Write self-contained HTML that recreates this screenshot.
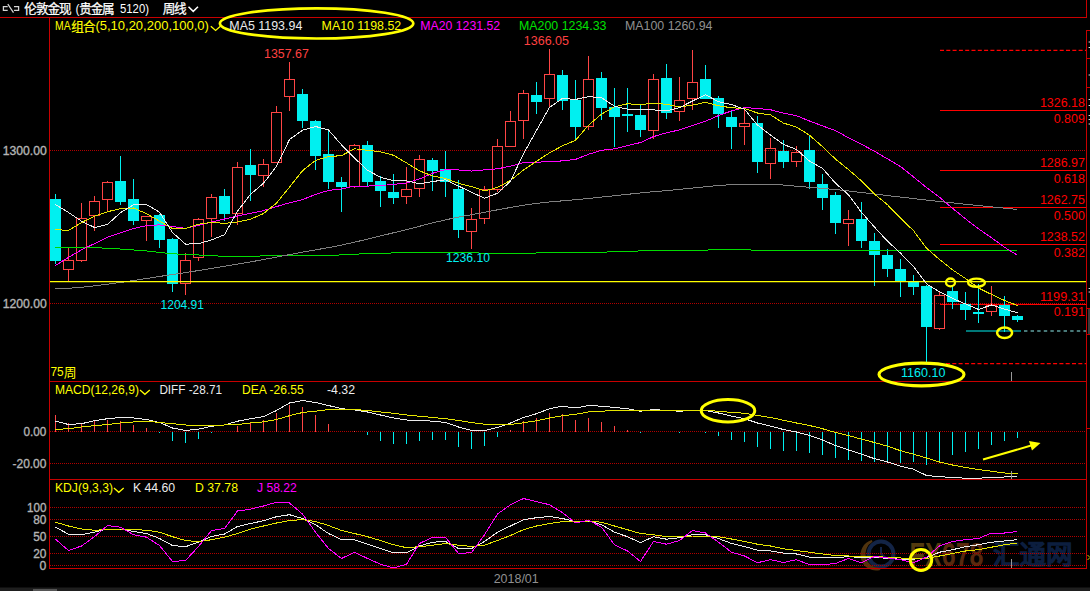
<!DOCTYPE html>
<html><head><meta charset="utf-8"><title>chart</title>
<style>html,body{margin:0;padding:0;background:#000;overflow:hidden}svg{display:block}text{font-family:"Liberation Sans",sans-serif}</style>
</head><body>
<svg width="1090" height="591" viewBox="0 0 1090 591">
<rect x="0" y="0" width="1090" height="591" fill="#000"/>
<g opacity="0.9">
<circle cx="881" cy="554" r="12.5" fill="none" stroke="#16284e" stroke-width="4"/>
<path d="M872 541 A15 15 0 0 0 880 569 A13 13 0 0 1 872 541 Z" fill="#5a3a10" stroke="#5a3a10" stroke-width="2"/>
<path d="M881 547 l0 7 l5 4" fill="none" stroke="#16284e" stroke-width="2"/>
<text x="909.6" y="566"  font-size="34" font-weight="bold" textLength="74" lengthAdjust="spacingAndGlyphs"><tspan fill="#5e4210">FX</tspan><tspan fill="#622e10">678</tspan></text>
<text x="993 1019.5 1046" y="564" font-size="26.5" fill="#0e2246" stroke="#0e2246" stroke-width="1.6" style="font-family:'Liberation Sans','Noto Sans CJK SC',sans-serif">汇通网</text>
</g>
<line x1="50" y1="150.5" x2="1086" y2="150.5" stroke="#b00000" stroke-width="1" stroke-dasharray="1 1" shape-rendering="crispEdges"/>
<line x1="50" y1="303.5" x2="1086" y2="303.5" stroke="#b00000" stroke-width="1" stroke-dasharray="1 1" shape-rendering="crispEdges"/>
<line x1="50" y1="431.5" x2="1086" y2="431.5" stroke="#b00000" stroke-width="1" stroke-dasharray="1 1" shape-rendering="crispEdges"/>
<line x1="50" y1="463.5" x2="1086" y2="463.5" stroke="#b00000" stroke-width="1" stroke-dasharray="1 1" shape-rendering="crispEdges"/>
<line x1="50" y1="507.5" x2="1086" y2="507.5" stroke="#b00000" stroke-width="1" stroke-dasharray="1 1" shape-rendering="crispEdges"/>
<line x1="50" y1="519.5" x2="1086" y2="519.5" stroke="#b00000" stroke-width="1" stroke-dasharray="1 1" shape-rendering="crispEdges"/>
<line x1="50" y1="536.5" x2="1086" y2="536.5" stroke="#b00000" stroke-width="1" stroke-dasharray="1 1" shape-rendering="crispEdges"/>
<line x1="50" y1="553.5" x2="1086" y2="553.5" stroke="#b00000" stroke-width="1" stroke-dasharray="1 1" shape-rendering="crispEdges"/>
<line x1="50" y1="565.5" x2="1086" y2="565.5" stroke="#b00000" stroke-width="1" stroke-dasharray="1 1" shape-rendering="crispEdges"/>
<line x1="940" y1="110.5" x2="1086" y2="110.5" stroke="#ff0000" stroke-width="1" shape-rendering="crispEdges"/>
<line x1="940" y1="170.5" x2="1086" y2="170.5" stroke="#ff0000" stroke-width="1" shape-rendering="crispEdges"/>
<line x1="940" y1="207.5" x2="1086" y2="207.5" stroke="#ff0000" stroke-width="1" shape-rendering="crispEdges"/>
<line x1="940" y1="244.5" x2="1086" y2="244.5" stroke="#ff0000" stroke-width="1" shape-rendering="crispEdges"/>
<line x1="940" y1="304.5" x2="1086" y2="304.5" stroke="#ff0000" stroke-width="1" shape-rendering="crispEdges"/>
<line x1="940" y1="50.4" x2="1086" y2="50.4" stroke="#ff0000" stroke-width="1.1" stroke-dasharray="4 2.3"/>
<line x1="946" y1="363.6" x2="1086" y2="363.6" stroke="#ff0000" stroke-width="1.1" stroke-dasharray="4 2.3"/>
<line x1="966" y1="331" x2="1021" y2="331" stroke="#00f0f0" stroke-width="1.1"/>
<line x1="1024" y1="331" x2="1086" y2="331" stroke="#90f0f0" stroke-width="1.1" stroke-dasharray="3.4 3.2"/>
<g shape-rendering="crispEdges">
<rect x="55" y="193.75" width="1" height="70.25" fill="#00f0f0"/>
<rect x="50" y="199.25" width="11" height="61.5" fill="#00f0f0"/>
<rect x="68" y="247.5" width="1" height="12" fill="#ff4545"/>
<rect x="68" y="270" width="1" height="11" fill="#ff4545"/>
<rect x="63.5" y="260.5" width="10" height="9" fill="none" stroke="#ff4545" stroke-width="1"/>
<rect x="81" y="203" width="1" height="15.3" fill="#ff4545"/>
<rect x="81" y="260.75" width="1" height="1.25" fill="#ff4545"/>
<rect x="76.5" y="218.5" width="10" height="42" fill="none" stroke="#ff4545" stroke-width="1"/>
<rect x="94" y="196.25" width="1" height="5" fill="#ff4545"/>
<rect x="94" y="215.75" width="1" height="14.75" fill="#ff4545"/>
<rect x="89.5" y="201.5" width="10" height="14" fill="none" stroke="#ff4545" stroke-width="1"/>
<rect x="107" y="181" width="1" height="1.5" fill="#ff4545"/>
<rect x="107" y="199.5" width="1" height="11.5" fill="#ff4545"/>
<rect x="102.5" y="182.5" width="10" height="17" fill="none" stroke="#ff4545" stroke-width="1"/>
<rect x="120" y="156.25" width="1" height="48.25" fill="#00f0f0"/>
<rect x="115" y="181.25" width="11" height="20.5" fill="#00f0f0"/>
<rect x="133" y="179.25" width="1" height="45.75" fill="#00f0f0"/>
<rect x="128" y="199.25" width="11" height="21.5" fill="#00f0f0"/>
<rect x="146" y="216" width="1" height="0.25" fill="#ff4545"/>
<rect x="146" y="220.75" width="1" height="20" fill="#ff4545"/>
<rect x="141.5" y="216.5" width="10" height="4" fill="none" stroke="#ff4545" stroke-width="1"/>
<rect x="159" y="214" width="1" height="34" fill="#00f0f0"/>
<rect x="154" y="215" width="11" height="25" fill="#00f0f0"/>
<rect x="172" y="237.5" width="1" height="54.2" fill="#00f0f0"/>
<rect x="167" y="239.25" width="11" height="44.75" fill="#00f0f0"/>
<rect x="185" y="252.5" width="1" height="7" fill="#ff4545"/>
<rect x="185" y="283.75" width="1" height="11.65" fill="#ff4545"/>
<rect x="180.5" y="260.5" width="10" height="23" fill="none" stroke="#ff4545" stroke-width="1"/>
<rect x="198" y="217.5" width="1" height="1.5" fill="#ff4545"/>
<rect x="198" y="258" width="1" height="2.5" fill="#ff4545"/>
<rect x="193.5" y="219.5" width="10" height="38" fill="none" stroke="#ff4545" stroke-width="1"/>
<rect x="211" y="194.25" width="1" height="2.75" fill="#ff4545"/>
<rect x="211" y="219" width="1" height="18" fill="#ff4545"/>
<rect x="206.5" y="197.5" width="10" height="21" fill="none" stroke="#ff4545" stroke-width="1"/>
<rect x="224" y="189.25" width="1" height="31.25" fill="#00f0f0"/>
<rect x="219" y="196.25" width="11" height="17.5" fill="#00f0f0"/>
<rect x="237" y="162" width="1" height="5" fill="#ff4545"/>
<rect x="237" y="213.75" width="1" height="10.75" fill="#ff4545"/>
<rect x="232.5" y="167.5" width="10" height="46" fill="none" stroke="#ff4545" stroke-width="1"/>
<rect x="250" y="149.25" width="1" height="51.5" fill="#00f0f0"/>
<rect x="245" y="165" width="11" height="9.5" fill="#00f0f0"/>
<rect x="263" y="159.25" width="1" height="5" fill="#ff4545"/>
<rect x="263" y="175.5" width="1" height="11" fill="#ff4545"/>
<rect x="258.5" y="164.5" width="10" height="11" fill="none" stroke="#ff4545" stroke-width="1"/>
<rect x="276" y="106.2" width="1" height="6.2" fill="#ff4545"/>
<rect x="276" y="163" width="1" height="0" fill="#ff4545"/>
<rect x="271.5" y="112.5" width="10" height="50" fill="none" stroke="#ff4545" stroke-width="1"/>
<rect x="289" y="62" width="1" height="17.4" fill="#ff4545"/>
<rect x="289" y="97.4" width="1" height="13.2" fill="#ff4545"/>
<rect x="284.5" y="79.5" width="10" height="17" fill="none" stroke="#ff4545" stroke-width="1"/>
<rect x="302" y="89.2" width="1" height="38.9" fill="#00f0f0"/>
<rect x="297" y="94.2" width="11" height="26.4" fill="#00f0f0"/>
<rect x="315" y="119.9" width="1" height="50" fill="#00f0f0"/>
<rect x="310" y="121.1" width="11" height="34.5" fill="#00f0f0"/>
<rect x="328" y="128.6" width="1" height="60" fill="#00f0f0"/>
<rect x="323" y="154.3" width="11" height="27.5" fill="#00f0f0"/>
<rect x="341" y="176.9" width="1" height="35.1" fill="#00f0f0"/>
<rect x="336" y="182.1" width="11" height="4.8" fill="#00f0f0"/>
<rect x="354" y="144.1" width="1" height="1.3" fill="#ff4545"/>
<rect x="354" y="187.1" width="1" height="1.2" fill="#ff4545"/>
<rect x="349.5" y="145.5" width="10" height="41" fill="none" stroke="#ff4545" stroke-width="1"/>
<rect x="367" y="141.1" width="1" height="45" fill="#00f0f0"/>
<rect x="362" y="145.1" width="11" height="36.5" fill="#00f0f0"/>
<rect x="380" y="175.6" width="1" height="31.8" fill="#00f0f0"/>
<rect x="375" y="181.1" width="11" height="9.7" fill="#00f0f0"/>
<rect x="393" y="174.1" width="1" height="30.3" fill="#00f0f0"/>
<rect x="388" y="192.4" width="11" height="5.6" fill="#00f0f0"/>
<rect x="406" y="167.1" width="1" height="21.5" fill="#ff4545"/>
<rect x="406" y="196.6" width="1" height="7" fill="#ff4545"/>
<rect x="401.5" y="189.5" width="10" height="7" fill="none" stroke="#ff4545" stroke-width="1"/>
<rect x="419" y="155.1" width="1" height="4.3" fill="#ff4545"/>
<rect x="419" y="189.2" width="1" height="7.8" fill="#ff4545"/>
<rect x="414.5" y="159.5" width="10" height="29" fill="none" stroke="#ff4545" stroke-width="1"/>
<rect x="432" y="157.9" width="1" height="33.2" fill="#00f0f0"/>
<rect x="427" y="159.9" width="11" height="11.2" fill="#00f0f0"/>
<rect x="445" y="150.9" width="1" height="45.7" fill="#00f0f0"/>
<rect x="440" y="168.6" width="11" height="13" fill="#00f0f0"/>
<rect x="458" y="179.9" width="1" height="57.9" fill="#00f0f0"/>
<rect x="453" y="189.1" width="11" height="40.7" fill="#00f0f0"/>
<rect x="471" y="208.1" width="1" height="11.2" fill="#ff4545"/>
<rect x="471" y="231.6" width="1" height="16.9" fill="#ff4545"/>
<rect x="466.5" y="219.5" width="10" height="12" fill="none" stroke="#ff4545" stroke-width="1"/>
<rect x="484" y="186.2" width="1" height="3.2" fill="#ff4545"/>
<rect x="484" y="219.3" width="1" height="4.3" fill="#ff4545"/>
<rect x="479.5" y="189.5" width="10" height="29" fill="none" stroke="#ff4545" stroke-width="1"/>
<rect x="497" y="139.1" width="1" height="7" fill="#ff4545"/>
<rect x="497" y="189.9" width="1" height="2" fill="#ff4545"/>
<rect x="492.5" y="146.5" width="10" height="43" fill="none" stroke="#ff4545" stroke-width="1"/>
<rect x="510" y="111.1" width="1" height="10" fill="#ff4545"/>
<rect x="510" y="146.6" width="1" height="0.7" fill="#ff4545"/>
<rect x="505.5" y="121.5" width="10" height="25" fill="none" stroke="#ff4545" stroke-width="1"/>
<rect x="523" y="89.9" width="1" height="3.3" fill="#ff4545"/>
<rect x="523" y="121.1" width="1" height="17.5" fill="#ff4545"/>
<rect x="518.5" y="93.5" width="10" height="27" fill="none" stroke="#ff4545" stroke-width="1"/>
<rect x="536" y="81.9" width="1" height="32.5" fill="#00f0f0"/>
<rect x="531" y="95.4" width="11" height="7" fill="#00f0f0"/>
<rect x="549" y="49.2" width="1" height="25.2" fill="#ff4545"/>
<rect x="549" y="99.1" width="1" height="8.3" fill="#ff4545"/>
<rect x="544.5" y="74.5" width="10" height="24" fill="none" stroke="#ff4545" stroke-width="1"/>
<rect x="562" y="70" width="1" height="39.9" fill="#00f0f0"/>
<rect x="557" y="75.4" width="11" height="25.2" fill="#00f0f0"/>
<rect x="575" y="79.9" width="1" height="59.9" fill="#00f0f0"/>
<rect x="570" y="99.9" width="11" height="26.7" fill="#00f0f0"/>
<rect x="588" y="56.2" width="1" height="23" fill="#ff4545"/>
<rect x="588" y="126.6" width="1" height="3.2" fill="#ff4545"/>
<rect x="583.5" y="79.5" width="10" height="47" fill="none" stroke="#ff4545" stroke-width="1"/>
<rect x="601" y="71.9" width="1" height="48" fill="#00f0f0"/>
<rect x="596" y="78.2" width="11" height="29.8" fill="#00f0f0"/>
<rect x="614" y="88.2" width="1" height="58.6" fill="#00f0f0"/>
<rect x="609" y="106.9" width="11" height="9.7" fill="#00f0f0"/>
<rect x="627" y="88.2" width="1" height="43.6" fill="#00f0f0"/>
<rect x="622" y="114.1" width="11" height="1.5" fill="#00f0f0"/>
<rect x="640" y="104.4" width="1" height="32.4" fill="#00f0f0"/>
<rect x="635" y="115.4" width="11" height="14.4" fill="#00f0f0"/>
<rect x="653" y="74.2" width="1" height="5.2" fill="#ff4545"/>
<rect x="653" y="131.1" width="1" height="8.2" fill="#ff4545"/>
<rect x="648.5" y="79.5" width="10" height="51" fill="none" stroke="#ff4545" stroke-width="1"/>
<rect x="666" y="64.2" width="1" height="54.4" fill="#00f0f0"/>
<rect x="661" y="78.2" width="11" height="34.8" fill="#00f0f0"/>
<rect x="679" y="76.9" width="1" height="23.5" fill="#ff4545"/>
<rect x="679" y="112" width="1" height="8.6" fill="#ff4545"/>
<rect x="674.5" y="100.5" width="10" height="11" fill="none" stroke="#ff4545" stroke-width="1"/>
<rect x="692" y="50" width="1" height="32.4" fill="#ff4545"/>
<rect x="692" y="98.6" width="1" height="11.3" fill="#ff4545"/>
<rect x="687.5" y="82.5" width="10" height="16" fill="none" stroke="#ff4545" stroke-width="1"/>
<rect x="705" y="65" width="1" height="34.4" fill="#00f0f0"/>
<rect x="700" y="79.2" width="11" height="19.4" fill="#00f0f0"/>
<rect x="718" y="96.1" width="1" height="31.7" fill="#00f0f0"/>
<rect x="713" y="98.1" width="11" height="16.3" fill="#00f0f0"/>
<rect x="731" y="111.1" width="1" height="37.9" fill="#00f0f0"/>
<rect x="726" y="116.6" width="11" height="10.7" fill="#00f0f0"/>
<rect x="744" y="108" width="1" height="15.4" fill="#ff4545"/>
<rect x="744" y="127.1" width="1" height="17.8" fill="#ff4545"/>
<rect x="739.5" y="123.5" width="10" height="3" fill="none" stroke="#ff4545" stroke-width="1"/>
<rect x="757" y="116.1" width="1" height="57.2" fill="#00f0f0"/>
<rect x="752" y="123.4" width="11" height="38.2" fill="#00f0f0"/>
<rect x="770" y="138.2" width="1" height="10.1" fill="#ff4545"/>
<rect x="770" y="164.1" width="1" height="14.5" fill="#ff4545"/>
<rect x="765.5" y="148.5" width="10" height="15" fill="none" stroke="#ff4545" stroke-width="1"/>
<rect x="783" y="139.9" width="1" height="28" fill="#00f0f0"/>
<rect x="778" y="151.2" width="11" height="10.4" fill="#00f0f0"/>
<rect x="796" y="146.2" width="1" height="6.2" fill="#ff4545"/>
<rect x="796" y="162.4" width="1" height="4.5" fill="#ff4545"/>
<rect x="791.5" y="152.5" width="10" height="9" fill="none" stroke="#ff4545" stroke-width="1"/>
<rect x="809" y="135.7" width="1" height="52.9" fill="#00f0f0"/>
<rect x="804" y="150.4" width="11" height="31.2" fill="#00f0f0"/>
<rect x="822" y="174.1" width="1" height="35.8" fill="#00f0f0"/>
<rect x="817" y="184.1" width="11" height="13.6" fill="#00f0f0"/>
<rect x="835" y="192.1" width="1" height="41.5" fill="#00f0f0"/>
<rect x="830" y="194.9" width="11" height="27.7" fill="#00f0f0"/>
<rect x="848" y="209.9" width="1" height="9.4" fill="#ff4545"/>
<rect x="848" y="224.3" width="1" height="21.5" fill="#ff4545"/>
<rect x="843.5" y="219.5" width="10" height="4" fill="none" stroke="#ff4545" stroke-width="1"/>
<rect x="861" y="201.9" width="1" height="46" fill="#00f0f0"/>
<rect x="856" y="219.1" width="11" height="21.5" fill="#00f0f0"/>
<rect x="874" y="233.1" width="1" height="53" fill="#00f0f0"/>
<rect x="869" y="241.1" width="11" height="13.9" fill="#00f0f0"/>
<rect x="887" y="249.1" width="1" height="27.7" fill="#00f0f0"/>
<rect x="882" y="255.4" width="11" height="13.2" fill="#00f0f0"/>
<rect x="900" y="259.4" width="1" height="37.4" fill="#00f0f0"/>
<rect x="895" y="269.1" width="11" height="13.2" fill="#00f0f0"/>
<rect x="913" y="274.9" width="1" height="19.9" fill="#00f0f0"/>
<rect x="908" y="281.6" width="11" height="5" fill="#00f0f0"/>
<rect x="926" y="285" width="1" height="77" fill="#00f0f0"/>
<rect x="921" y="286.1" width="11" height="40.8" fill="#00f0f0"/>
<rect x="939" y="291.8" width="1" height="3" fill="#ff4545"/>
<rect x="939" y="328.6" width="1" height="1.3" fill="#ff4545"/>
<rect x="934.5" y="295.5" width="10" height="33" fill="none" stroke="#ff4545" stroke-width="1"/>
<rect x="952" y="286.1" width="1" height="22.4" fill="#00f0f0"/>
<rect x="947" y="291.1" width="11" height="10.5" fill="#00f0f0"/>
<rect x="965" y="291.8" width="1" height="28" fill="#00f0f0"/>
<rect x="960" y="303.6" width="11" height="6.2" fill="#00f0f0"/>
<rect x="978" y="283.6" width="1" height="39.4" fill="#00f0f0"/>
<rect x="973" y="312" width="11" height="2" fill="#00f0f0"/>
<rect x="991" y="286.1" width="1" height="18.7" fill="#ff4545"/>
<rect x="991" y="311.5" width="1" height="4" fill="#ff4545"/>
<rect x="986.5" y="305.5" width="10" height="6" fill="none" stroke="#ff4545" stroke-width="1"/>
<rect x="1004" y="296.1" width="1" height="36.2" fill="#00f0f0"/>
<rect x="999" y="304.8" width="11" height="10.7" fill="#00f0f0"/>
<rect x="1017" y="315" width="1" height="6.5" fill="#00f0f0"/>
<rect x="1012" y="315.5" width="11" height="4.3" fill="#00f0f0"/>
</g>
<polyline points="55.5,247.4 68.5,247.5 81.5,247.58 94.5,247.76 107.5,248.21 120.5,249.05 133.5,249.95 146.5,250.98 159.5,252.37 172.5,253.78 185.5,254.48 198.5,254.99 211.5,255.74 224.5,256.3 237.5,256.33 250.5,256.14 263.5,255.96 276.5,255.82 289.5,255.67 302.5,255.52 315.5,255.36 328.5,255.22 341.5,254.94 354.5,254.22 367.5,253.62 380.5,253.25 393.5,252.94 406.5,252.71 419.5,252.56 432.5,252.47 445.5,252.45 458.5,252.49 471.5,252.63 484.5,253.28 497.5,253.62 510.5,253.64 523.5,253.42 536.5,253 549.5,252.74 562.5,252.62 575.5,252.54 588.5,252.42 601.5,252.17 614.5,251.78 627.5,251.32 640.5,250.93 653.5,250.67 666.5,250.53 679.5,250.44 692.5,250.33 705.5,250.11 718.5,249.62 731.5,249.79 744.5,249.96 757.5,250.05 770.5,250.13 783.5,250.19 796.5,250.25 809.5,250.31 822.5,250.36 835.5,250.41 848.5,250.48 861.5,250.56 874.5,250.64 887.5,250.69 900.5,250.7 913.5,250.67 926.5,250.6 939.5,250.52 952.5,250.43 965.5,250.35 978.5,250.29 991.5,250.25 1004.5,250.23 1017.5,250.2" fill="none" stroke="#00dc00" stroke-width="1" stroke-linejoin="round" shape-rendering="crispEdges"/>
<polyline points="55.5,288.2 68.5,288.28 81.5,287.34 94.5,285.89 107.5,284.23 120.5,282.45 133.5,280.54 146.5,278.51 159.5,276.46 172.5,274.51 185.5,272.62 198.5,270.54 211.5,268.45 224.5,266.32 237.5,264.15 250.5,261.91 263.5,259.56 276.5,257.1 289.5,254.62 302.5,252.16 315.5,249.86 328.5,247.64 341.5,245.08 354.5,242.17 367.5,239.11 380.5,235.96 393.5,232.78 406.5,229.59 419.5,226.27 432.5,222.95 445.5,219.84 458.5,217.11 471.5,214.7 484.5,212.3 497.5,209.81 510.5,207.48 523.5,205.22 536.5,203.36 549.5,201.98 562.5,200.84 575.5,199.72 588.5,198.44 601.5,197.08 614.5,195.7 627.5,194.32 640.5,192.96 653.5,191.67 666.5,190.61 679.5,189.41 692.5,188.07 705.5,186.73 718.5,185.49 731.5,184.64 744.5,184.35 757.5,184.29 770.5,184.39 783.5,185.05 796.5,186.2 809.5,187.31 822.5,188.38 835.5,189.55 848.5,190.94 861.5,192.5 874.5,194.07 887.5,195.56 900.5,197.07 913.5,198.56 926.5,200.04 939.5,201.48 952.5,202.89 965.5,204.25 978.5,205.57 991.5,206.88 1004.5,208.18 1017.5,209.5" fill="none" stroke="#808080" stroke-width="1" stroke-linejoin="round" shape-rendering="crispEdges"/>
<line x1="50" y1="281.6" x2="1086" y2="281.6" stroke="#ffff00" stroke-width="1.2"/>
<polyline points="55.5,265.5 68.5,257.3 81.5,249.8 94.5,243.6 107.5,237.3 120.5,232.8 133.5,228.6 146.5,225.6 159.5,224.9 172.5,226.6 185.5,228.3 198.5,225.4 211.5,222 224.5,219 237.5,216 250.5,213.4 263.5,210.6 276.5,206.6 289.5,202.8 302.5,199.62 315.5,194.37 328.5,190.48 341.5,188.91 354.5,186.12 367.5,186.07 380.5,185.53 393.5,184.39 406.5,183 419.5,178.97 432.5,173.33 445.5,169.44 458.5,169.97 471.5,171.09 484.5,169.87 497.5,168.83 510.5,166.16 523.5,162.6 536.5,162.1 549.5,161.85 562.5,160.85 575.5,159.41 588.5,154.28 601.5,150.33 614.5,148.89 627.5,145.59 640.5,142.54 653.5,136.61 666.5,132.83 679.5,129.88 692.5,125.45 705.5,121.3 718.5,115.53 731.5,110.92 744.5,107.62 757.5,108.4 770.5,109.76 783.5,113.18 796.5,115.68 809.5,121.04 822.5,125.9 835.5,130.69 848.5,137.7 861.5,144.33 874.5,151.25 887.5,158.9 900.5,166.53 913.5,176.89 926.5,187.58 939.5,197.3 952.5,208.26 965.5,218.82 978.5,228.8 991.5,237.68 1004.5,247.28 1017.5,255.19" fill="none" stroke="#ff00ff" stroke-width="1" stroke-linejoin="round" shape-rendering="crispEdges"/>
<polyline points="55.5,229.5 68.5,230.5 81.5,222.5 94.5,216.2 107.5,211.7 120.5,208.7 133.5,208 146.5,213.7 159.5,221.2 172.5,228.51 185.5,228.38 198.5,224.33 211.5,222.2 224.5,223.45 237.5,221.9 250.5,219.18 263.5,213.53 276.5,203.14 289.5,187.08 302.5,170.74 315.5,160.35 328.5,156.63 341.5,155.62 354.5,148.78 367.5,150.25 380.5,151.88 393.5,155.25 406.5,162.87 419.5,170.87 432.5,175.92 445.5,178.52 458.5,183.32 471.5,186.56 484.5,190.96 497.5,187.41 510.5,180.44 523.5,169.96 536.5,161.34 549.5,152.84 562.5,145.79 575.5,140.29 588.5,125.23 601.5,114.1 614.5,106.82 627.5,103.77 640.5,104.64 653.5,103.26 666.5,104.32 679.5,106.92 692.5,105.1 705.5,102.3 718.5,105.82 731.5,107.75 744.5,108.43 757.5,113.03 770.5,114.88 783.5,123.1 796.5,127.04 809.5,135.16 822.5,146.69 835.5,159.09 848.5,169.58 861.5,180.91 874.5,194.07 887.5,204.77 900.5,218.17 913.5,230.67 926.5,248.12 939.5,259.44 952.5,269.83 965.5,278.55 978.5,288.02 991.5,294.44 1004.5,300.49 1017.5,305.61" fill="none" stroke="#e6e600" stroke-width="1" stroke-linejoin="round" shape-rendering="crispEdges"/>
<polyline points="55.5,204.5 68.5,212.5 81.5,221.2 94.5,227.5 107.5,224.46 120.5,212.66 133.5,204.91 146.5,204.5 159.5,212.25 172.5,232.55 185.5,244.1 198.5,243.75 211.5,239.9 224.5,234.65 237.5,211.25 250.5,194.25 263.5,183.3 276.5,166.38 289.5,139.51 302.5,130.23 315.5,126.45 328.5,129.96 341.5,144.86 354.5,158.06 367.5,170.26 380.5,177.3 393.5,180.54 406.5,180.88 419.5,183.68 432.5,181.58 445.5,179.74 458.5,186.1 471.5,192.24 484.5,198.24 497.5,193.24 510.5,181.14 523.5,153.82 536.5,130.44 549.5,107.44 562.5,98.34 575.5,99.44 588.5,96.64 601.5,97.76 614.5,106.2 627.5,109.2 640.5,109.84 653.5,109.88 666.5,110.88 679.5,107.64 692.5,101 705.5,94.76 718.5,101.76 731.5,104.62 744.5,109.22 757.5,125.06 770.5,135 783.5,144.44 796.5,149.46 809.5,161.1 822.5,168.32 835.5,183.18 848.5,194.72 861.5,212.36 874.5,227.04 887.5,241.22 900.5,253.16 913.5,266.62 926.5,283.88 939.5,291.84 952.5,298.44 965.5,303.94 978.5,309.42 991.5,305 1004.5,309.14 1017.5,312.78" fill="none" stroke="#ececec" stroke-width="1" stroke-linejoin="round" shape-rendering="crispEdges"/>
<rect x="55" y="415" width="1" height="16.5" fill="#ff4545" shape-rendering="crispEdges"/>
<rect x="68" y="423" width="1" height="8.5" fill="#ff4545" shape-rendering="crispEdges"/>
<rect x="81" y="423.7" width="1" height="7.8" fill="#ff4545" shape-rendering="crispEdges"/>
<rect x="94" y="421.2" width="1" height="10.3" fill="#ff4545" shape-rendering="crispEdges"/>
<rect x="107" y="419.5" width="1" height="12" fill="#ff4545" shape-rendering="crispEdges"/>
<rect x="120" y="421.2" width="1" height="10.3" fill="#ff4545" shape-rendering="crispEdges"/>
<rect x="133" y="425" width="1" height="6.5" fill="#ff4545" shape-rendering="crispEdges"/>
<rect x="146" y="428" width="1" height="3.5" fill="#ff4545" shape-rendering="crispEdges"/>
<rect x="159" y="431.5" width="1" height="1" fill="#00f0f0" shape-rendering="crispEdges"/>
<rect x="172" y="431.5" width="1" height="9.2" fill="#00f0f0" shape-rendering="crispEdges"/>
<rect x="185" y="431.5" width="1" height="11" fill="#00f0f0" shape-rendering="crispEdges"/>
<rect x="198" y="431.5" width="1" height="7.2" fill="#00f0f0" shape-rendering="crispEdges"/>
<rect x="211" y="431.5" width="1" height="1.5" fill="#00f0f0" shape-rendering="crispEdges"/>
<rect x="237" y="425.7" width="1" height="5.8" fill="#ff4545" shape-rendering="crispEdges"/>
<rect x="250" y="423" width="1" height="8.5" fill="#ff4545" shape-rendering="crispEdges"/>
<rect x="263" y="420" width="1" height="11.5" fill="#ff4545" shape-rendering="crispEdges"/>
<rect x="276" y="412.5" width="1" height="19" fill="#ff4545" shape-rendering="crispEdges"/>
<rect x="289" y="405" width="1" height="26.5" fill="#ff4545" shape-rendering="crispEdges"/>
<rect x="302" y="407" width="1" height="24.5" fill="#ff4545" shape-rendering="crispEdges"/>
<rect x="315" y="415" width="1" height="16.5" fill="#ff4545" shape-rendering="crispEdges"/>
<rect x="328" y="424.2" width="1" height="7.3" fill="#ff4545" shape-rendering="crispEdges"/>
<rect x="354" y="431" width="1" height="0.5" fill="#ff4545" shape-rendering="crispEdges"/>
<rect x="367" y="431.5" width="1" height="3.5" fill="#00f0f0" shape-rendering="crispEdges"/>
<rect x="380" y="431.5" width="1" height="9" fill="#00f0f0" shape-rendering="crispEdges"/>
<rect x="393" y="431.5" width="1" height="12.2" fill="#00f0f0" shape-rendering="crispEdges"/>
<rect x="406" y="431.5" width="1" height="12.2" fill="#00f0f0" shape-rendering="crispEdges"/>
<rect x="419" y="431.5" width="1" height="9.7" fill="#00f0f0" shape-rendering="crispEdges"/>
<rect x="432" y="431.5" width="1" height="8.5" fill="#00f0f0" shape-rendering="crispEdges"/>
<rect x="445" y="431.5" width="1" height="8.5" fill="#00f0f0" shape-rendering="crispEdges"/>
<rect x="458" y="431.5" width="1" height="15.5" fill="#00f0f0" shape-rendering="crispEdges"/>
<rect x="471" y="431.5" width="1" height="17.2" fill="#00f0f0" shape-rendering="crispEdges"/>
<rect x="484" y="431.5" width="1" height="14.7" fill="#00f0f0" shape-rendering="crispEdges"/>
<rect x="497" y="431.5" width="1" height="5.5" fill="#00f0f0" shape-rendering="crispEdges"/>
<rect x="510" y="430" width="1" height="1.5" fill="#ff4545" shape-rendering="crispEdges"/>
<rect x="523" y="421.2" width="1" height="10.3" fill="#ff4545" shape-rendering="crispEdges"/>
<rect x="536" y="417.5" width="1" height="14" fill="#ff4545" shape-rendering="crispEdges"/>
<rect x="549" y="413" width="1" height="18.5" fill="#ff4545" shape-rendering="crispEdges"/>
<rect x="562" y="414.2" width="1" height="17.3" fill="#ff4545" shape-rendering="crispEdges"/>
<rect x="575" y="420" width="1" height="11.5" fill="#ff4545" shape-rendering="crispEdges"/>
<rect x="588" y="418" width="1" height="13.5" fill="#ff4545" shape-rendering="crispEdges"/>
<rect x="601" y="422" width="1" height="9.5" fill="#ff4545" shape-rendering="crispEdges"/>
<rect x="614" y="426.2" width="1" height="5.3" fill="#ff4545" shape-rendering="crispEdges"/>
<rect x="627" y="430" width="1" height="1.5" fill="#ff4545" shape-rendering="crispEdges"/>
<rect x="640" y="431.5" width="1" height="1.5" fill="#00f0f0" shape-rendering="crispEdges"/>
<rect x="666" y="431.5" width="1" height="0.8" fill="#00f0f0" shape-rendering="crispEdges"/>
<rect x="679" y="431.5" width="1" height="1.5" fill="#00f0f0" shape-rendering="crispEdges"/>
<rect x="705" y="431.5" width="1" height="1" fill="#00f0f0" shape-rendering="crispEdges"/>
<rect x="718" y="431.5" width="1" height="4.2" fill="#00f0f0" shape-rendering="crispEdges"/>
<rect x="731" y="431.5" width="1" height="8.5" fill="#00f0f0" shape-rendering="crispEdges"/>
<rect x="744" y="431.5" width="1" height="10.5" fill="#00f0f0" shape-rendering="crispEdges"/>
<rect x="757" y="431.5" width="1" height="15.5" fill="#00f0f0" shape-rendering="crispEdges"/>
<rect x="770" y="431.5" width="1" height="17.7" fill="#00f0f0" shape-rendering="crispEdges"/>
<rect x="783" y="431.5" width="1" height="19.7" fill="#00f0f0" shape-rendering="crispEdges"/>
<rect x="796" y="431.5" width="1" height="19" fill="#00f0f0" shape-rendering="crispEdges"/>
<rect x="809" y="431.5" width="1" height="21.5" fill="#00f0f0" shape-rendering="crispEdges"/>
<rect x="822" y="431.5" width="1" height="23.5" fill="#00f0f0" shape-rendering="crispEdges"/>
<rect x="835" y="431.5" width="1" height="26.5" fill="#00f0f0" shape-rendering="crispEdges"/>
<rect x="848" y="431.5" width="1" height="28.5" fill="#00f0f0" shape-rendering="crispEdges"/>
<rect x="861" y="431.5" width="1" height="29.7" fill="#00f0f0" shape-rendering="crispEdges"/>
<rect x="874" y="431.5" width="1" height="30.5" fill="#00f0f0" shape-rendering="crispEdges"/>
<rect x="887" y="431.5" width="1" height="31.5" fill="#00f0f0" shape-rendering="crispEdges"/>
<rect x="900" y="431.5" width="1" height="31" fill="#00f0f0" shape-rendering="crispEdges"/>
<rect x="913" y="431.5" width="1" height="30.5" fill="#00f0f0" shape-rendering="crispEdges"/>
<rect x="926" y="431.5" width="1" height="33.5" fill="#00f0f0" shape-rendering="crispEdges"/>
<rect x="939" y="431.5" width="1" height="29" fill="#00f0f0" shape-rendering="crispEdges"/>
<rect x="952" y="431.5" width="1" height="23.5" fill="#00f0f0" shape-rendering="crispEdges"/>
<rect x="965" y="431.5" width="1" height="20.5" fill="#00f0f0" shape-rendering="crispEdges"/>
<rect x="978" y="431.5" width="1" height="17.7" fill="#00f0f0" shape-rendering="crispEdges"/>
<rect x="991" y="431.5" width="1" height="13" fill="#00f0f0" shape-rendering="crispEdges"/>
<rect x="1004" y="431.5" width="1" height="9.7" fill="#00f0f0" shape-rendering="crispEdges"/>
<rect x="1017" y="431.5" width="1" height="6.7" fill="#00f0f0" shape-rendering="crispEdges"/>
<polyline points="55.5,421.2 68.5,424.5 81.5,423.7 94.5,420.7 107.5,418.7 120.5,417.5 133.5,418 146.5,419.5 159.5,422.5 172.5,428 185.5,430.5 198.5,429.2 211.5,426.2 224.5,425 237.5,421.2 250.5,418.7 263.5,416.6 276.5,410.5 289.5,403 302.5,400.5 315.5,402.5 328.5,405.5 341.5,408.7 354.5,410 367.5,412 380.5,415 393.5,418 406.5,420 419.5,420 432.5,421.2 445.5,422.5 458.5,427 471.5,430.5 484.5,430.5 497.5,427.5 510.5,423 523.5,417.5 536.5,413.7 549.5,408.7 562.5,406.2 575.5,408 588.5,405.5 601.5,406.2 614.5,407.5 627.5,408.7 640.5,411.2 653.5,409.5 666.5,410.5 679.5,411.2 692.5,410.5 705.5,410.5 718.5,413 731.5,416.2 744.5,418.7 757.5,423 770.5,426.2 783.5,429.5 796.5,432 809.5,435.5 822.5,440 835.5,445.5 848.5,450 861.5,454.2 874.5,458.7 887.5,462 900.5,466.2 913.5,469.2 926.5,475.5 939.5,476.7 952.5,477.5 965.5,478.2 978.5,478.2 991.5,477.5 1004.5,477 1017.5,476.5" fill="none" stroke="#ececec" stroke-width="1" stroke-linejoin="round" shape-rendering="crispEdges"/>
<polyline points="55.5,429.5 68.5,428.7 81.5,427 94.5,425.7 107.5,424.5 120.5,423 133.5,422 146.5,421.2 159.5,422.5 172.5,423.7 185.5,425 198.5,425.7 211.5,425.7 224.5,425 237.5,424.5 250.5,423 263.5,421.85 276.5,419.5 289.5,415.7 302.5,412.5 315.5,411.2 328.5,409.5 341.5,409.5 354.5,409.5 367.5,410.5 380.5,412 393.5,413.2 406.5,415 419.5,416.2 432.5,417.5 445.5,418.7 458.5,420.5 471.5,422.5 484.5,424.2 497.5,425 510.5,424.5 523.5,422.75 536.5,420.7 549.5,418 562.5,415.7 575.5,414.2 588.5,412 601.5,411.2 614.5,410.5 627.5,410.5 640.5,410.5 653.5,410.5 666.5,410.5 679.5,410.5 692.5,410.5 705.5,410.5 718.5,411.2 731.5,412.5 744.5,413.2 757.5,415.5 770.5,417.5 783.5,420.25 796.5,423 809.5,425.5 822.5,428.7 835.5,432.5 848.5,435.5 861.5,439.2 874.5,442.5 887.5,446.2 900.5,450.7 913.5,454.2 926.5,458 939.5,462 952.5,465 965.5,467.5 978.5,469.5 991.5,471.2 1004.5,473 1017.5,473.7" fill="none" stroke="#e6e600" stroke-width="1" stroke-linejoin="round" shape-rendering="crispEdges"/>
<polyline points="55.5,527.2 68.5,534.2 81.5,534.7 94.5,532.2 107.5,529 120.5,529 133.5,531.5 146.5,533.5 159.5,538.5 172.5,545.5 185.5,546.7 198.5,542.2 211.5,536.5 224.5,534 237.5,526.5 250.5,523.5 263.5,520.75 276.5,516.7 289.5,514.7 302.5,518.5 315.5,524.7 328.5,533.5 341.5,539.7 354.5,539.7 367.5,544.2 380.5,548.5 393.5,552.7 406.5,552.7 419.5,546 432.5,542.2 445.5,541.5 458.5,548.5 471.5,548.5 484.5,541.5 497.5,532.2 510.5,526 523.5,519.7 536.5,517.7 549.5,516.5 562.5,518.5 575.5,521.7 588.5,521 601.5,524.7 614.5,532.2 627.5,536.7 640.5,542.7 653.5,536.7 666.5,539.2 679.5,537.7 692.5,534.7 705.5,534.7 718.5,538.5 731.5,543.5 744.5,546.5 757.5,550.2 770.5,551 783.5,553.1 796.5,554 809.5,557.2 822.5,557.7 835.5,558 848.5,556.5 861.5,557.7 874.5,557.2 887.5,558.5 900.5,559.2 913.5,559.2 926.5,557.7 939.5,552.2 952.5,549.7 965.5,546.7 978.5,544.7 991.5,542.2 1004.5,541 1017.5,539.7" fill="none" stroke="#ececec" stroke-width="1" stroke-linejoin="round" shape-rendering="crispEdges"/>
<polyline points="55.5,522.2 68.5,526 81.5,529 94.5,530.2 107.5,529.7 120.5,529 133.5,529.7 146.5,530.2 159.5,532.2 172.5,536.7 185.5,540.5 198.5,541.7 211.5,539.7 224.5,537.2 237.5,533.5 250.5,529.2 263.5,526 276.5,523 289.5,520.5 302.5,519.7 315.5,521.5 328.5,525.5 341.5,530.5 354.5,533.5 367.5,536.7 380.5,540.5 393.5,544.7 406.5,547.7 419.5,546.7 432.5,545.2 445.5,543.5 458.5,545.2 471.5,546.5 484.5,545.2 497.5,540.5 510.5,535.5 523.5,529.7 536.5,526 549.5,523.5 562.5,521.7 575.5,521.5 588.5,521 601.5,522.2 614.5,526 627.5,529.7 640.5,533.5 653.5,534.7 666.5,536.7 679.5,536.7 692.5,536 705.5,536 718.5,536.7 731.5,539 744.5,541.5 757.5,544.2 770.5,546 783.5,548.75 796.5,550.5 809.5,552.2 822.5,554 835.5,555.5 848.5,556 861.5,556.5 874.5,556.7 887.5,557.2 900.5,558 913.5,558.5 926.5,558.5 939.5,556 952.5,553.5 965.5,551 978.5,549.7 991.5,547.2 1004.5,544.7 1017.5,543" fill="none" stroke="#e6e600" stroke-width="1" stroke-linejoin="round" shape-rendering="crispEdges"/>
<polyline points="55.5,539.2 68.5,550.5 81.5,546 94.5,536.7 107.5,525.5 120.5,527.2 133.5,534.7 146.5,537.2 159.5,545.5 172.5,561.5 185.5,560.5 198.5,546.5 211.5,530.5 224.5,528.5 237.5,511 250.5,509.2 263.5,506 276.5,502.2 289.5,503 302.5,514 315.5,532.2 328.5,548.5 341.5,558.5 354.5,552.2 367.5,558.5 380.5,564.2 393.5,568 406.5,564.2 419.5,543.5 432.5,537.2 445.5,537.2 458.5,553.5 471.5,552.7 484.5,534.7 497.5,514 510.5,504.7 523.5,498.5 536.5,501.7 549.5,504.7 562.5,512.7 575.5,523 588.5,520.2 601.5,527.2 614.5,544.7 627.5,551 640.5,561.5 653.5,541.5 666.5,544.2 679.5,540.5 692.5,530.5 705.5,533 718.5,542.2 731.5,552.2 744.5,556 757.5,562.7 770.5,559.7 783.5,562.45 796.5,559.7 809.5,564.7 822.5,564.7 835.5,563.5 848.5,558.5 861.5,562.7 874.5,556.5 887.5,558 900.5,559.7 913.5,562.7 926.5,557.2 939.5,546 952.5,541.5 965.5,539.7 978.5,538.5 991.5,533 1004.5,533 1017.5,531.5" fill="none" stroke="#ff00ff" stroke-width="1" stroke-linejoin="round" shape-rendering="crispEdges"/>
<line x1="0" y1="17.5" x2="1087" y2="17.5" stroke="#c80000" stroke-width="1.3" shape-rendering="crispEdges"/>
<line x1="1086.5" y1="0" x2="1086.5" y2="17.5" stroke="#c80000" stroke-width="1.3" shape-rendering="crispEdges"/>
<line x1="49.7" y1="17.5" x2="49.7" y2="568.5" stroke="#c80000" stroke-width="1.3" shape-rendering="crispEdges"/>
<line x1="50" y1="381.5" x2="1087" y2="381.5" stroke="#c80000" stroke-width="1.3" shape-rendering="crispEdges"/>
<line x1="50" y1="479.5" x2="1087" y2="479.5" stroke="#c80000" stroke-width="1.3" shape-rendering="crispEdges"/>
<line x1="50" y1="568.5" x2="1087" y2="568.5" stroke="#c80000" stroke-width="1.3" shape-rendering="crispEdges"/>
<line x1="1086.7" y1="30" x2="1086.7" y2="568.5" stroke="#c80000" stroke-width="1.3" shape-rendering="crispEdges"/>
<line x1="1086" y1="30.5" x2="1090" y2="30.5" stroke="#c80000" stroke-width="1" shape-rendering="crispEdges"/>
<line x1="1086" y1="58.5" x2="1090" y2="58.5" stroke="#c80000" stroke-width="1" shape-rendering="crispEdges"/>
<line x1="1086" y1="87" x2="1090" y2="87" stroke="#c80000" stroke-width="1" shape-rendering="crispEdges"/>
<line x1="1086" y1="428" x2="1090" y2="428" stroke="#c80000" stroke-width="1" shape-rendering="crispEdges"/>
<line x1="1088.6" y1="42" x2="1090" y2="42" stroke="#e0e0e0" stroke-width="1"/>
<line x1="1088.6" y1="47.5" x2="1090" y2="47.5" stroke="#e0e0e0" stroke-width="1"/>
<line x1="1088.6" y1="75" x2="1090" y2="75" stroke="#e0e0e0" stroke-width="1"/>
<line x1="1088.6" y1="99.5" x2="1090" y2="99.5" stroke="#e0e0e0" stroke-width="1"/>
<line x1="1088.6" y1="105.5" x2="1090" y2="105.5" stroke="#e0e0e0" stroke-width="1"/>
<line x1="1088.6" y1="115.5" x2="1090" y2="115.5" stroke="#e0e0e0" stroke-width="1"/>
<line x1="1088.6" y1="119.5" x2="1090" y2="119.5" stroke="#e0e0e0" stroke-width="1"/>
<line x1="1088.6" y1="124" x2="1090" y2="124" stroke="#e0e0e0" stroke-width="1"/>
<line x1="1088.6" y1="288.5" x2="1090" y2="288.5" stroke="#e0e0e0" stroke-width="1"/>
<line x1="1088.6" y1="292" x2="1090" y2="292" stroke="#e0e0e0" stroke-width="1"/>
<line x1="1088.6" y1="325" x2="1090" y2="325" stroke="#e0e0e0" stroke-width="1"/>
<rect x="1088" y="308.5" width="2" height="26" fill="#3a3a3a"/>
<line x1="1087" y1="308.5" x2="1090" y2="308.5" stroke="#c80000" stroke-width="1" shape-rendering="crispEdges"/>
<line x1="1087" y1="334.5" x2="1090" y2="334.5" stroke="#c80000" stroke-width="1" shape-rendering="crispEdges"/>
<line x1="1011.7" y1="372" x2="1011.7" y2="381" stroke="#999" stroke-width="1" shape-rendering="crispEdges"/>
<line x1="1011.7" y1="470.5" x2="1011.7" y2="479" stroke="#999" stroke-width="1" shape-rendering="crispEdges"/>
<line x1="1011.7" y1="558.5" x2="1011.7" y2="568" stroke="#999" stroke-width="1" shape-rendering="crispEdges"/>
<path d="M1087.5 555 l2.5 2.5 l-2.5 2.5" fill="none" stroke="#cc0" stroke-width="1"/>
<rect x="0" y="587.5" width="1090" height="3.5" fill="#1e1e1e"/>
<rect x="33" y="589" width="24" height="2" fill="#555"/>
<ellipse cx="316.6" cy="23.4" rx="96.7" ry="15.1" fill="none" stroke="#ffff00" stroke-width="2.7"/>
<ellipse cx="921.5" cy="374.5" rx="42.5" ry="11.4" fill="none" stroke="#ffff00" stroke-width="3.1"/>
<ellipse cx="728" cy="410.8" rx="26.8" ry="11.2" fill="none" stroke="#ffff00" stroke-width="3"/>
<ellipse cx="921" cy="560" rx="10.7" ry="10.4" fill="none" stroke="#ffff00" stroke-width="3"/>
<ellipse cx="950.5" cy="282.4" rx="4.5" ry="3.9" fill="none" stroke="#ffff00" stroke-width="2.3"/>
<ellipse cx="976.5" cy="282.7" rx="8.4" ry="4.1" fill="none" stroke="#ffff00" stroke-width="2.4"/>
<ellipse cx="1004.6" cy="332.8" rx="7.5" ry="5.2" fill="none" stroke="#ffff00" stroke-width="2.5"/>
<line x1="983" y1="459.5" x2="1032" y2="445.3" stroke="#ffff00" stroke-width="2"/>
<polygon points="1040.5,443 1029,441 1032,450.5" fill="#ffff00"/>
<path d="M7.7 6.7 H3.4 V10.3 H7.7 M14 6.7 H18.6 V10.3 H14 M7.8 4.2 L13.5 12.7" fill="none" stroke="#d4d4d4" stroke-width="1.25"/>
<text x="24.3 35.9 47.5 59.1" y="13.3" fill="#fff" stroke="#fff" stroke-width="0.25" font-size="12.6" style="font-family:'Liberation Sans','Noto Sans CJK SC',sans-serif">伦敦金现</text>
<text x="75.5" y="12.8" fill="#fff" font-size="12">(</text>
<text x="79.3 90.7 102.1" y="13.3" fill="#fff" stroke="#fff" stroke-width="0.25" font-size="12.6" style="font-family:'Liberation Sans','Noto Sans CJK SC',sans-serif">贵金属</text>
<text x="120" y="12.8" fill="#fff" font-size="12" textLength="29" lengthAdjust="spacingAndGlyphs">5120)</text>
<text x="162.8 174.1" y="13.3" fill="#fff" stroke="#fff" stroke-width="0.25" font-size="12.6" style="font-family:'Liberation Sans','Noto Sans CJK SC',sans-serif">周线</text>
<path d="M188.5 6.8 l4.75 4.6 l4.75 -4.6" fill="none" stroke="#fff" stroke-width="1.5"/>
<text x="55" y="30.4" fill="#ffff00" font-size="12.4" textLength="15.6" lengthAdjust="spacingAndGlyphs">MA</text>
<text x="71.2 83.1" y="31.2" fill="#ffff00" stroke="#ffff00" stroke-width="0.2" font-size="12.6" style="font-family:'Liberation Sans','Noto Sans CJK SC',sans-serif">组合</text>
<text x="95.4" y="30.4" fill="#ffff00" font-size="12.4" textLength="113.5" lengthAdjust="spacingAndGlyphs">(5,10,20,200,100,0)</text>
<path d="M210.8 26.3 l4.8 4.2 l4.8 -4.2" fill="none" stroke="#ffff00" stroke-width="1.3"/>
<text x="229.3" y="30.4" fill="#ececec" font-size="12.4" textLength="73" lengthAdjust="spacingAndGlyphs">MA5 1193.94</text>
<text x="321.6" y="30.4" fill="#ffff00" font-size="12.4" textLength="79.6" lengthAdjust="spacingAndGlyphs">MA10 1198.52</text>
<text x="420.3" y="30.4" fill="#ff00ff" font-size="12.4" textLength="79.8" lengthAdjust="spacingAndGlyphs">MA20 1231.52</text>
<text x="519" y="30.4" fill="#00e000" font-size="12.4" textLength="87.5" lengthAdjust="spacingAndGlyphs">MA200 1234.33</text>
<text x="625" y="30.4" fill="#909090" font-size="12.4" textLength="87.5" lengthAdjust="spacingAndGlyphs">MA100 1260.94</text>
<text x="264" y="58.1" fill="#ff4040" font-size="12.4" textLength="44.8" lengthAdjust="spacingAndGlyphs">1357.67</text>
<text x="523.8" y="44.6" fill="#ff4040" font-size="12.4" textLength="45.2" lengthAdjust="spacingAndGlyphs">1366.05</text>
<text x="160.5" y="309.2" fill="#00f0f0" font-size="12.4" textLength="43.5" lengthAdjust="spacingAndGlyphs">1204.91</text>
<text x="446" y="261.9" fill="#00f0f0" font-size="12.4" textLength="44" lengthAdjust="spacingAndGlyphs">1236.10</text>
<text x="901" y="377.1" fill="#00f0f0" font-size="12.4" textLength="44.4" lengthAdjust="spacingAndGlyphs">1160.10</text>
<text x="50.5" y="376" fill="#ffff00" font-size="12.4" textLength="13.2" lengthAdjust="spacingAndGlyphs">75</text>
<text x="63.8" y="377" fill="#ffff00" font-size="12.8" style="font-family:'Liberation Sans','Noto Sans CJK SC',sans-serif">周</text>
<text x="46.8" y="155" fill="#b4b4b4" font-size="12.2" text-anchor="end" textLength="44" lengthAdjust="spacingAndGlyphs" stroke="#b4b4b4" stroke-width="0.35">1300.00</text>
<text x="46.8" y="308" fill="#b4b4b4" font-size="12.2" text-anchor="end" textLength="44" lengthAdjust="spacingAndGlyphs" stroke="#b4b4b4" stroke-width="0.35">1200.00</text>
<text x="46.4" y="436" fill="#b4b4b4" font-size="12.2" text-anchor="end" textLength="22.8" lengthAdjust="spacingAndGlyphs" stroke="#b4b4b4" stroke-width="0.35">0.00</text>
<text x="46.4" y="468" fill="#b4b4b4" font-size="12.2" text-anchor="end" textLength="33.9" lengthAdjust="spacingAndGlyphs" stroke="#b4b4b4" stroke-width="0.35">-20.00</text>
<text x="46.4" y="512" fill="#b4b4b4" font-size="12.2" text-anchor="end" textLength="19.4" lengthAdjust="spacingAndGlyphs" stroke="#b4b4b4" stroke-width="0.35">100</text>
<text x="46.4" y="524" fill="#b4b4b4" font-size="12.2" text-anchor="end" textLength="13.2" lengthAdjust="spacingAndGlyphs" stroke="#b4b4b4" stroke-width="0.35">80</text>
<text x="46.4" y="541" fill="#b4b4b4" font-size="12.2" text-anchor="end" textLength="13.2" lengthAdjust="spacingAndGlyphs" stroke="#b4b4b4" stroke-width="0.35">50</text>
<text x="46.4" y="558" fill="#b4b4b4" font-size="12.2" text-anchor="end" textLength="13.2" lengthAdjust="spacingAndGlyphs" stroke="#b4b4b4" stroke-width="0.35">20</text>
<text x="46.4" y="570" fill="#b4b4b4" font-size="12.2" text-anchor="end" stroke="#b4b4b4" stroke-width="0.35">0</text>
<text x="1084.9" y="107.1" fill="#ff0000" font-size="12.4" text-anchor="end" textLength="45" lengthAdjust="spacingAndGlyphs">1326.18</text>
<text x="1084.9" y="122.8" fill="#ff0000" font-size="12.4" text-anchor="end" textLength="31.2" lengthAdjust="spacingAndGlyphs">0.809</text>
<text x="1084.9" y="167.1" fill="#ff0000" font-size="12.4" text-anchor="end" textLength="45" lengthAdjust="spacingAndGlyphs">1286.97</text>
<text x="1084.9" y="182.8" fill="#ff0000" font-size="12.4" text-anchor="end" textLength="31.2" lengthAdjust="spacingAndGlyphs">0.618</text>
<text x="1084.9" y="204.1" fill="#ff0000" font-size="12.4" text-anchor="end" textLength="45" lengthAdjust="spacingAndGlyphs">1262.75</text>
<text x="1084.9" y="219.8" fill="#ff0000" font-size="12.4" text-anchor="end" textLength="31.2" lengthAdjust="spacingAndGlyphs">0.500</text>
<text x="1084.9" y="241.1" fill="#ff0000" font-size="12.4" text-anchor="end" textLength="45" lengthAdjust="spacingAndGlyphs">1238.52</text>
<text x="1084.9" y="256.8" fill="#ff0000" font-size="12.4" text-anchor="end" textLength="31.2" lengthAdjust="spacingAndGlyphs">0.382</text>
<text x="1084.9" y="300.6" fill="#ff0000" font-size="12.4" text-anchor="end" textLength="45" lengthAdjust="spacingAndGlyphs">1199.31</text>
<text x="1084.9" y="316.3" fill="#ff0000" font-size="12.4" text-anchor="end" textLength="31.2" lengthAdjust="spacingAndGlyphs">0.191</text>
<text x="55" y="394.4" fill="#ffff00" font-size="12.4" textLength="83.9" lengthAdjust="spacingAndGlyphs">MACD(12,26,9)</text>
<path d="M140 390.1 l4.9 4.2 l4.9 -4.2" fill="none" stroke="#ffff00" stroke-width="1.3"/>
<text x="159.4" y="394.4" fill="#ececec" font-size="12.4" textLength="62.6" lengthAdjust="spacingAndGlyphs">DIFF -28.71</text>
<text x="242" y="394.4" fill="#ffff00" font-size="12.4" textLength="61.7" lengthAdjust="spacingAndGlyphs">DEA -26.55</text>
<text x="327" y="394.4" fill="#ececec" font-size="12.4" textLength="28" lengthAdjust="spacingAndGlyphs">-4.32</text>
<text x="55" y="492.4" fill="#ffff00" font-size="12.4" textLength="58" lengthAdjust="spacingAndGlyphs">KDJ(9,3,3)</text>
<path d="M113.9 488.1 l4.9 4.2 l4.9 -4.2" fill="none" stroke="#ffff00" stroke-width="1.3"/>
<text x="132.9" y="492.4" fill="#ececec" font-size="12.4" textLength="42.3" lengthAdjust="spacingAndGlyphs">K 44.60</text>
<text x="195" y="492.4" fill="#ffff00" font-size="12.4" textLength="43" lengthAdjust="spacingAndGlyphs">D 37.78</text>
<text x="257" y="492.4" fill="#ff00ff" font-size="12.4" textLength="39.7" lengthAdjust="spacingAndGlyphs">J 58.22</text>
<text x="493.7" y="583.4" fill="#909090" font-size="12.4" textLength="45" lengthAdjust="spacingAndGlyphs">2018/01</text>
</svg></body></html>
